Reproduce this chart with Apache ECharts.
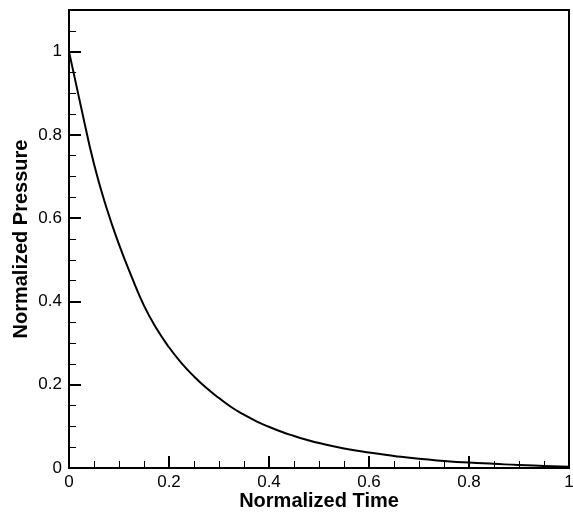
<!DOCTYPE html>
<html>
<head>
<meta charset="utf-8">
<script src="https://cdn.jsdelivr.net/npm/echarts@6/dist/echarts.min.js"></script>
<style>
  html, body { margin: 0; padding: 0; background: #fff; }
  #chart-container { width: 573px; height: 512px; }
</style>
</head>
<body>
<div id="chart-container"></div>
<script>
// values
const timeValues = [0, 0.025, 0.05, 0.075, 0.1, 0.125, 0.15, 0.175, 0.2, 0.225, 0.25, 0.275, 0.3, 0.325, 0.35, 0.375, 0.4, 0.425, 0.45, 0.475, 0.5,
    0.55, 0.6, 0.65, 0.7, 0.75, 0.8, 0.85, 0.9, 0.95, 1.0]
const pressureValues = [1.0, 0.862, 0.73, 0.625, 0.537, 0.46, 0.39, 0.335, 0.29, 0.252, 0.22, 0.192, 0.168, 0.146, 0.128, 0.112, 0.099, 0.087, 0.077, 0.068, 0.060,
    0.047, 0.037, 0.029, 0.022, 0.017, 0.013, 0.010, 0.007, 0.005, 0.003]

const xTitle = 'Normalized Time'
const yTitle = 'Normalized Pressure'

const font = 'Liberation Sans, Arial, sans-serif'

const chartContainer = document.getElementById("chart-container");
const chart = echarts.init(chartContainer);

var curve = []
for (var i = 0; i < timeValues.length; i++) {
    curve.push([timeValues[i], pressureValues[i]])
}

var axisLine = { show: true, onZero: false, lineStyle: { color: '#000', width: 2 } }

chart.setOption({
    animation: false,
    backgroundColor: '#fff',
    grid: {
        left: 69, right: 4, top: 10, bottom: 44,
        outerBoundsMode: 'none',
        show: true, borderColor: '#000', borderWidth: 2
    },
    xAxis: {
        type: 'value', min: 0, max: 1, interval: 0.2,
        name: xTitle, nameLocation: 'middle', nameGap: 23, nameMoveOverlap: false,
        nameTextStyle: { fontFamily: font, fontSize: 20, fontWeight: 'bold', color: '#000' },
        axisLine: axisLine,
        axisTick: { inside: true, length: 12, lineStyle: { color: '#000', width: 2 } },
        minorTick: { show: true, splitNumber: 4, length: 7, lineStyle: { color: '#000', width: 1 } },
        axisLabel: { fontFamily: font, fontSize: 17, color: '#000', margin: 6 },
        splitLine: { show: false }
    },
    yAxis: [
        {
            type: 'value', min: 0, max: 1.1, interval: 0.2,
            name: yTitle, nameLocation: 'middle', nameGap: 38, nameMoveOverlap: false,
            nameTextStyle: { fontFamily: font, fontSize: 20, fontWeight: 'bold', color: '#000' },
            axisLine: axisLine,
            axisTick: { inside: true, length: 12, lineStyle: { color: '#000', width: 2 } },
            axisLabel: {
                fontFamily: font, fontSize: 17, color: '#000', margin: 7,
                formatter: function (v) { return v > 1.05 ? '' : String(v) }
            },
            splitLine: { show: false }
        },
        {
            // short ticks every 0.05
            type: 'value', min: 0, max: 1.1, interval: 0.05, position: 'left',
            axisLine: { show: false },
            axisTick: { inside: true, length: 7, lineStyle: { color: '#000', width: 1 } },
            axisLabel: { show: false },
            splitLine: { show: false }
        }
    ],
    series: [{
        type: 'line',
        data: curve,
        smooth: true,
        showSymbol: false,
        lineStyle: { color: '#000', width: 2 }
    }]
});
console.log("chart drawn")
</script>
</body>
</html>
